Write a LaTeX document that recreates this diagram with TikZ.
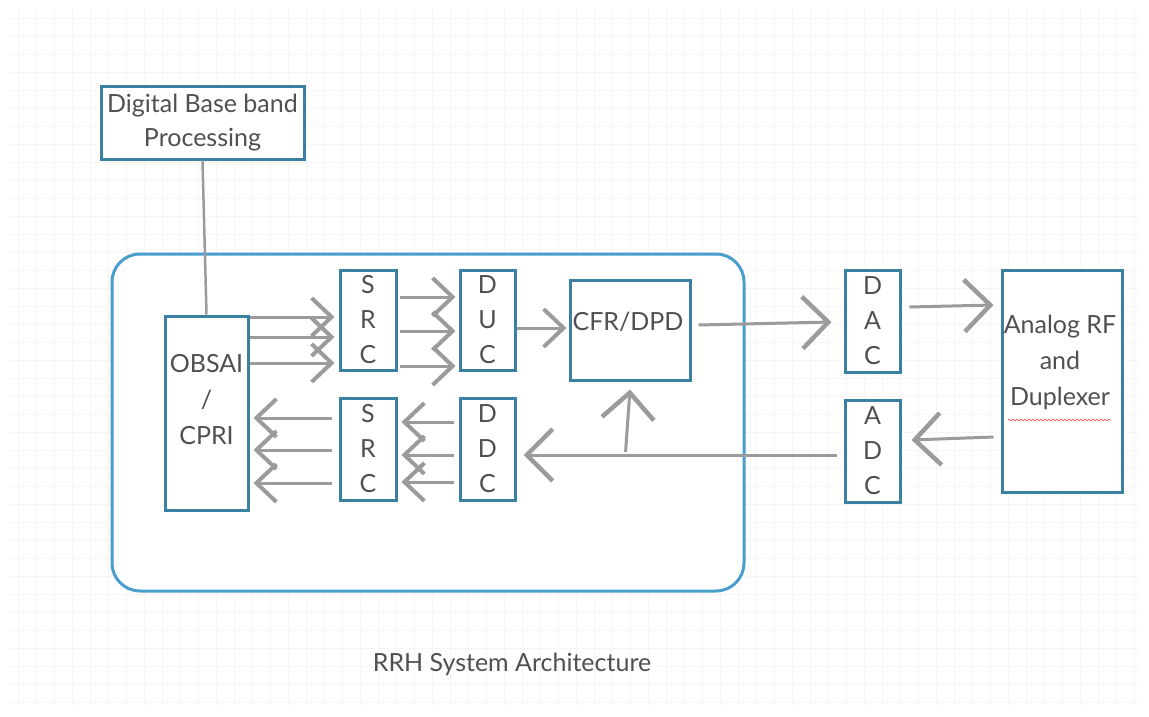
\documentclass[tikz,border=0pt]{standalone}
\usepackage{fontspec}
\setmainfont{Lato}
\usetikzlibrary{arrows.meta,positioning,decorations.pathmorphing}
\definecolor{boxblue}{RGB}{58,128,160}
\definecolor{frameblue}{RGB}{72,158,204}
\definecolor{arrowgray}{RGB}{155,155,155}
\definecolor{textgray}{RGB}{80,80,80}
\tikzset{
  blk/.style={
    rectangle,
    draw=boxblue,
    line width=3pt,
    fill=white,
    inner sep=0pt,
    align=center,
    text=textgray,
    font=\fontsize{25}{35}\selectfont
  },
  lbl/.style={
    inner sep=0pt,
    align=center,
    text=textgray,
    font=\fontsize{25}{36}\selectfont
  },
  flow/.style={
    draw=arrowgray,
    line width=3pt,
    -{Straight Barb[length=20pt,width=38pt,line width=4pt]}
  },
  bigflow/.style={
    flow,
    -{Straight Barb[length=26pt,width=52pt,line width=4.5pt]}
  },
  gridline/.style={draw=black!4,line width=0.5pt}
}

\begin{document}
\begin{tikzpicture}[x=1pt,y=-1pt]

\useasboundingbox[fill=white] (0,0) rectangle (1149,717);
\draw[gridline,xstep=18pt,ystep=18pt] (10,8) grid (1140,705);

% outer RRH frame
\draw[draw=frameblue,line width=3pt,rounded corners=28pt,fill=white]
  (112,254) rectangle (744,591);

\node[blk,minimum width=203,minimum height=72,font=\fontsize{25}{34}\selectfont]
  (dbb) at (202.5,123) {Digital Base band\\Processing};

\node[blk,minimum width=83,minimum height=194] (obsai) at (206.5,413) {};
\node[lbl] (obsai-txt) at (206.5,400) {OBSAI\\/\\CPRI};

\node[blk,minimum width=56,minimum height=100] (srcA) at (368,320) {S\\R\\C};
\node[blk,minimum width=55,minimum height=100] (duc) at (487.5,320) {D\\U\\C};
\node[blk,minimum width=56,minimum height=102] (srcB) at (368,449) {S\\R\\C};
\node[blk,minimum width=55,minimum height=102] (ddc) at (487.5,449) {D\\D\\C};

\node[blk,minimum width=120,minimum height=100] (cfr) at (630,330) {};
\node[lbl] (cfr-txt) at (628,322) {CFR/DPD};

\node[blk,minimum width=55,minimum height=102] (dac) at (872.5,321) {D\\A\\C};
\node[blk,minimum width=55,minimum height=102] (adc) at (872.5,451) {A\\D\\C};

\node[blk,minimum width=120,minimum height=222] (rf) at (1062,381) {};
\node[lbl] (rf-txt) at (1060,362) {Analog RF\\and\\Duplexer};
\draw[red!75,line width=0.6pt,decorate,
  decoration={snake,amplitude=0.8pt,segment length=4pt}]
  (1008,420) -- (1111,420);

\node[lbl] (title) at (512,664) {RRH System Architecture};

% connectors
\draw[draw=arrowgray,line width=2.5pt] (dbb.south) -- (obsai.north);

\foreach \a/\b in {96/3, 76/-17, 50/-43}
  \draw[flow] ([yshift=\a pt]obsai.east) -- ([yshift=\b pt,xshift=-4pt]srcA.west);
\foreach \a in {23, -11, -46}
  \draw[flow] ([yshift=\a pt,xshift=2pt]srcA.east) -- ([yshift=\a pt,xshift=-3pt]duc.west);
\draw[flow] ([yshift=-8pt]duc.east) -- ([yshift=2pt,xshift=-2pt]cfr.west);
\draw[bigflow] ([yshift=5pt,xshift=7pt]cfr.east) -- ([yshift=-1pt,xshift=-12pt]dac.west);
\draw[bigflow] ([yshift=14pt,xshift=8pt]dac.east) -- ([yshift=76pt,xshift=-7pt]rf.west);
\draw[bigflow] ([yshift=-56pt,xshift=-7pt]rf.west) -- ([yshift=11pt,xshift=10pt]adc.east);
\draw[bigflow] ([yshift=-4pt,xshift=-7pt]adc.west)
  -- coordinate[pos=0.674] (tap) ([yshift=-6pt,xshift=7pt]ddc.east);
\draw[bigflow] ([yshift=3pt]tap) -- ([yshift=-8pt]cfr.south);
\foreach \a in {27, -6, -33}
  \draw[flow] ([yshift=\a pt,xshift=-5pt]ddc.west) -- ([yshift=\a pt,xshift=4pt]srcB.east);
\foreach \a/\b in {31/-5, -1/-37, -34/-70}
  \draw[flow] ([yshift=\a pt,xshift=-7pt]srcB.west) -- ([yshift=\b pt,xshift=4pt]obsai.east);

\end{tikzpicture}
\end{document}
